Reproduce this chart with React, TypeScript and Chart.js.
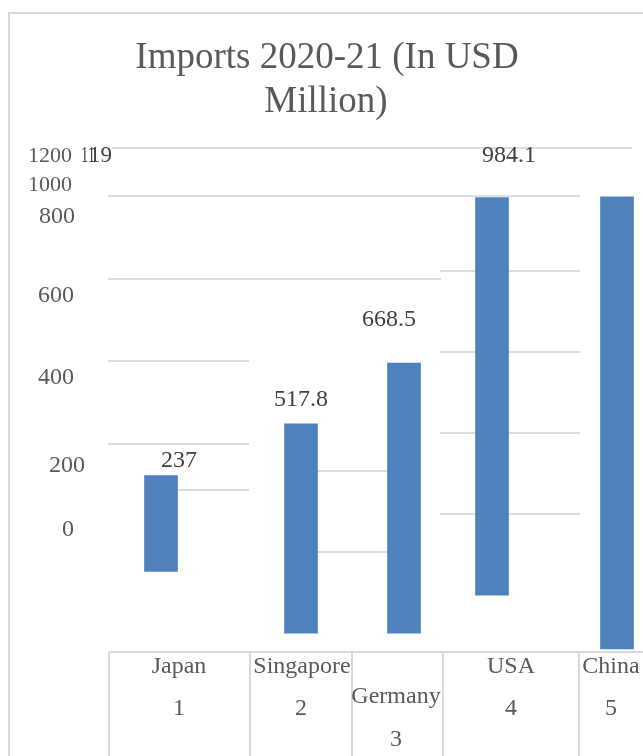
import React, { useEffect, useRef } from "react";
import { Chart, registerables } from "chart.js";

Chart.register(...registerables);

// ---- data ----
const categories = ["Japan", "Singapore", "Germany", "USA", "China"];
const rankLabels = ["1", "2", "3", "4", "5"];
const imports = [237, 517.8, 668.5, 984.1, 1119];
const barBases = [170, 17, 17, 111, -22];
const valueLabels = ["237", "517.8", "668.5", "984.1", "1119"];
const yTickLabels = ["1200", "1000", "800", "600", "400", "200", "0"];
const titleLines = ["Imports 2020-21 (In USD", "Million)"];

// ---- layout (positions / styles) ----
const Y_MIN = -287;
const Y_MAX = 1584;
const BAR_X = [161, 301, 404, 492, 617];
const LABEL_POS = [
  [179, 461],
  [301, 400],
  [389, 320],
  [509, 156],
  [97, 156],
];
const TICK_POS = [
  [28, 156],
  [28, 185],
  [39, 217],
  [38, 296],
  [38, 378],
  [49, 466],
  [62, 530],
];
const GRID_SEGMENTS = [
  [148, 112, 632],
  [196, 108, 580],
  [279, 108, 441],
  [361, 108, 249],
  [444, 108, 249],
  [490, 160, 249],
  [471, 300, 388],
  [552, 300, 388],
  [271, 440, 580],
  [352, 440, 580],
  [433, 440, 580],
  [514, 440, 580],
];
const TABLE_TOP = 652;
const TABLE_COLS = [109, 250, 352, 443, 579];
const TABLE_NAME_POS = [
  [179, 667],
  [302, 667],
  [396, 697],
  [511, 667],
  [611, 667],
];
const TABLE_RANK_POS = [
  [179, 709],
  [301, 709],
  [396, 740],
  [511, 709],
  [611, 709],
];
const SERIF = '"Liberation Serif", "DejaVu Serif", serif';
const LINE_COLOR = "#d9d9d9";
const TEXT_COLOR = "#595959";

const decor = {
  id: "decor",
  beforeDatasetsDraw(chart: any) {
    const ctx = chart.ctx as CanvasRenderingContext2D;
    ctx.save();
    ctx.strokeStyle = LINE_COLOR;
    ctx.lineWidth = 2;
    ctx.beginPath();
    ctx.moveTo(9, 756);
    ctx.lineTo(9, 13);
    ctx.lineTo(643, 13);
    ctx.stroke();
    ctx.strokeStyle = "#dcdcdc";
    for (const [y, x1, x2] of GRID_SEGMENTS) {
      ctx.beginPath();
      ctx.moveTo(x1, y);
      ctx.lineTo(x2, y);
      ctx.stroke();
    }
    ctx.strokeStyle = LINE_COLOR;
    ctx.beginPath();
    ctx.moveTo(TABLE_COLS[0], TABLE_TOP);
    ctx.lineTo(643, TABLE_TOP);
    for (const x of TABLE_COLS) {
      ctx.moveTo(x, TABLE_TOP);
      ctx.lineTo(x, 756);
    }
    ctx.stroke();
    ctx.restore();
  },
  afterDatasetsDraw(chart: any) {
    const ctx = chart.ctx as CanvasRenderingContext2D;
    ctx.save();
    ctx.textBaseline = "middle";
    ctx.fillStyle = TEXT_COLOR;
    ctx.textAlign = "center";
    ctx.font = `37px ${SERIF}`;
    ctx.fillText(titleLines[0], 327, 58);
    ctx.fillText(titleLines[1], 326, 102);
    ctx.textAlign = "left";
    yTickLabels.forEach((t, i) => {
      ctx.font = i < 2 ? `22px ${SERIF}` : `24px ${SERIF}`;
      ctx.fillText(t, TICK_POS[i][0], TICK_POS[i][1]);
    });
    ctx.fillStyle = "#404040";
    ctx.font = `24px ${SERIF}`;
    valueLabels.forEach((t, i) => {
      const [x, y] = LABEL_POS[i];
      if (i === 4) {
        ctx.textAlign = "left";
        ctx.fillText(t.slice(0, 2), 81, y, 14);
        ctx.fillText(t.slice(2), 89, y, 23);
      } else {
        ctx.textAlign = "center";
        ctx.fillText(t, x, y);
      }
    });
    ctx.fillStyle = TEXT_COLOR;
    ctx.textAlign = "center";
    ctx.font = `24px ${SERIF}`;
    categories.forEach((c, i) => {
      ctx.fillText(c, TABLE_NAME_POS[i][0], TABLE_NAME_POS[i][1]);
      ctx.fillText(rankLabels[i], TABLE_RANK_POS[i][0], TABLE_RANK_POS[i][1]);
    });
    ctx.restore();
  },
};

export default function App() {
  const ref = useRef<HTMLCanvasElement>(null);
  useEffect(() => {
    if (!ref.current) return;
    const chart = new Chart(ref.current, {
      type: "bar",
      data: {
        datasets: [
          {
            data: categories.map((c, i) => ({
              x: BAR_X[i],
              y: [barBases[i], barBases[i] + imports[i]],
            })) as any,
            backgroundColor: "#4f81bd",
            borderWidth: 0,
            barThickness: 33,
          },
        ],
      },
      options: {
        responsive: false,
        animation: false,
        devicePixelRatio: 1,
        layout: { padding: 0 },
        plugins: { legend: { display: false }, tooltip: { enabled: false } },
        scales: {
          x: { type: "linear", min: 0, max: 643, offset: false, display: false },
          y: { type: "linear", min: Y_MIN, max: Y_MAX, display: false },
        },
      },
      plugins: [decor],
    });
    return () => chart.destroy();
  }, []);
  return (
    <div style={{ position: "fixed", left: 0, top: 0, width: 643, height: 756, background: "#fff" }}>
      <canvas ref={ref} width={643} height={756} style={{ width: 643, height: 756, display: "block" }} />
    </div>
  );
}
